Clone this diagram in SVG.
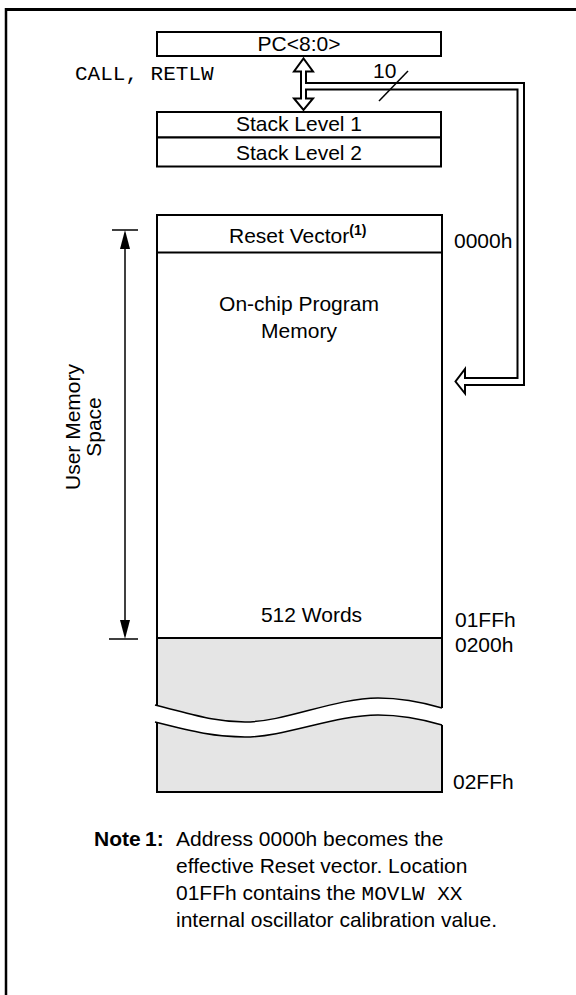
<svg xmlns="http://www.w3.org/2000/svg" width="576" height="995" viewBox="0 0 576 995">
<style>
.t{font-family:"Liberation Sans",Arial,sans-serif;font-size:21px;fill:#000}
.c{text-anchor:middle}
.m{font-family:"Liberation Mono","Courier New",monospace;font-size:21px;fill:#000}
.b{font-weight:bold}
.box{fill:#fff;stroke:#000;stroke-width:2}
.ln{fill:none;stroke:#000;stroke-width:2}
.thin{fill:none;stroke:#000;stroke-width:1.5}
.grey{fill:#e5e5e5;stroke:none}
</style>
<g id="frame">
<line x1="5" y1="9.5" x2="576" y2="9.5" stroke="#000" stroke-width="3"/>
<line x1="6" y1="8" x2="6" y2="995" stroke="#000" stroke-width="2.5"/>
</g>
<g id="pc">
<rect class="box" x="157" y="32" width="284" height="24"/>
<text class="t c" x="299" y="51">PC&lt;8:0&gt;</text>
</g>
<g id="label-call">
<text class="m" x="75" y="80">CALL, RETLW</text>
</g>
<g id="stack1">
<rect class="box" x="157" y="112" width="284" height="25.5"/>
<text class="t c" x="299" y="131">Stack Level 1</text>
</g>
<g id="stack2">
<rect class="box" x="157" y="137.5" width="284" height="29"/>
<text class="t c" x="299" y="160">Stack Level 2</text>
</g>
<g id="connectors">
<path d="M306,83 L524,83 L524,385 L465,385 L465,393.5 L455.5,381.5 L465,369 L465,378 L517.5,378 L517.5,89.5 L306,89.5 L306,98.5 L313,98.5 L303.5,110 L294,98.5 L301,98.5 L301,71.5 L294,71.5 L303.5,58.5 L313,71.5 L306,71.5 Z" fill="#fff" stroke="#000" stroke-width="2"/>
<line class="thin" x1="379" y1="101" x2="408" y2="71"/>
<text class="t" x="373" y="78">10</text>
<line class="thin" x1="125" y1="240" x2="125" y2="629"/>
<path d="M125,230 L130,249 L120,249 Z" fill="#000"/>
<path d="M125,639 L130,620 L120,620 Z" fill="#000"/>
<line class="thin" x1="112" y1="230" x2="138" y2="230"/>
<line class="thin" x1="109" y1="639" x2="138" y2="639"/>
</g>
<g id="user-space">
<text class="t c" transform="translate(80,427) rotate(-90)" x="0" y="0">User Memory</text>
<text class="t c" transform="translate(101,427) rotate(-90)" x="0" y="0">Space</text>
</g>
<g id="memory">
<path class="grey" d="M157,638 L442,638 L442,708 C425,703 405,698 378,698 C335,698 285,722 245,722 C215,722 195,715 157,705 Z"/>
<path class="grey" d="M157,722 C195,732 215,737 245,737 C285,737 335,715 378,715 C405,715 425,720 442,725 L442,792 L157,792 Z"/>
<path class="ln" d="M157,705 L157,215 L442,215 L442,708"/>
<line class="ln" x1="157" y1="252.5" x2="442" y2="252.5"/>
<line class="ln" x1="157" y1="638" x2="442" y2="638"/>
<path class="ln" d="M157,722 L157,792 L442,792 L442,725"/>
<path class="thin" d="M155,705 C195,715 215,722 245,722 C285,722 335,698 378,698 C405,698 425,703 442,708"/>
<path class="thin" d="M155,722 C195,732 215,737 245,737 C285,737 335,715 378,715 C405,715 425,720 442,725"/>
<text class="t" x="229" y="243">Reset Vector<tspan class="b" font-size="14" dy="-8">(1)</tspan></text>
<text class="t c" x="299" y="311">On-chip Program</text>
<text class="t c" x="299" y="338">Memory</text>
<text class="t c" x="311.5" y="622">512 Words</text>
</g>
<g id="addresses">
<text class="t" x="454" y="248">0000h</text>
<text class="t" x="455" y="627">01FFh</text>
<text class="t" x="455" y="652">0200h</text>
<text class="t" x="453" y="789">02FFh</text>
</g>
<g id="note">
<text class="t b" x="94" y="846" font-size="18">Note</text>
<text class="t b" x="145" y="846" font-size="18">1:</text>
<text class="t" x="176" y="846">Address 0000h becomes the</text>
<text class="t" x="176" y="873">effective Reset vector. Location</text>
<text class="t" x="176" y="900">01FFh contains the <tspan class="m" font-size="19">MOVLW  XX</tspan></text>
<text class="t" x="176" y="927">internal oscillator calibration value.</text>
</g>
</svg>
